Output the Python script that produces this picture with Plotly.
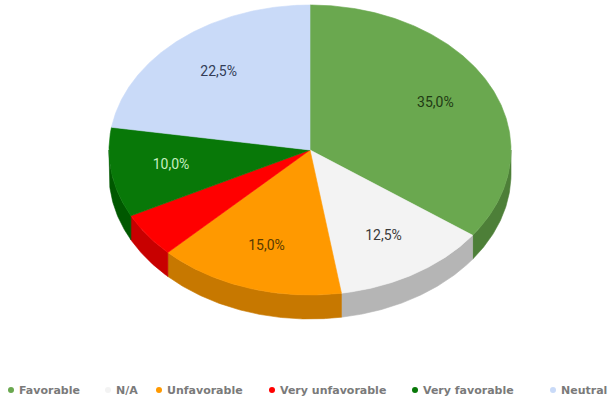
import numpy as np
import plotly.graph_objects as go

# Survey answers and their shares (percent)
categories = ["Favorable", "N/A", "Unfavorable", "Very unfavorable", "Very favorable", "Neutral"]
shares = [35.0, 12.5, 15.0, 5.0, 10.0, 22.5]

# Styling
top_colors = ["#6aa84f", "#f3f3f3", "#ff9900", "#ff0000", "#087808", "#c9daf8"]
side_colors = ["#4d7f38", "#b5b5b5", "#c77800", "#c80000", "#005800", "#9fb5dc"]
label_colors = ["#1f3a14", "#3a3a3a", "#5a3b00", "#ffffff", "#c6efc0", "#333d57"]

W, H = 610, 402
CX, CY = 310.0, 150.0      # centre of the top face
RX, RY = 201.0, 145.0      # ellipse radii of the tilted disc
DEPTH = 24.0               # thickness of the disc
LABEL_R = 0.70             # label distance as fraction of radius
MIN_LABEL_SHARE = 7.0      # slices thinner than this get no label


def ellipse_pts(a0, a1, dy=0.0, n=None):
    """Points on the rim between angles a0..a1 (degrees, clockwise from 12 o'clock)."""
    if n is None:
        n = max(int(abs(a1 - a0) * 2), 2)
    t = np.radians(np.linspace(a0, a1, n))
    return CX + RX * np.sin(t), CY - RY * np.cos(t) + dy


total = float(sum(shares))
bounds = np.concatenate([[0.0], np.cumsum(shares) / total * 360.0])

fig = go.Figure()

# Side walls: only the front half of the rim (90..270 deg) is visible
for i, cat in enumerate(categories):
    a0, a1 = max(bounds[i], 90.0), min(bounds[i + 1], 270.0)
    if a1 <= a0:
        continue
    xt, yt = ellipse_pts(a0, a1)
    xb, yb = ellipse_pts(a1, a0, dy=DEPTH)
    fig.add_trace(go.Scatter(
        x=np.concatenate([xt, xb, xt[:1]]), y=np.concatenate([yt, yb, yt[:1]]),
        fill="toself", fillcolor=side_colors[i], mode="lines",
        line=dict(color=side_colors[i], width=0.6),
        hoverinfo="skip", showlegend=False))

# Top faces
for i, cat in enumerate(categories):
    xa, ya = ellipse_pts(bounds[i], bounds[i + 1])
    fig.add_trace(go.Scatter(
        x=np.concatenate([[CX], xa, [CX]]), y=np.concatenate([[CY], ya, [CY]]),
        fill="toself", fillcolor=top_colors[i], mode="lines",
        line=dict(color=top_colors[i], width=0.6),
        name=cat, hoverinfo="name", showlegend=False))

# Percentage labels at the middle of each slice
mids = np.radians((bounds[:-1] + bounds[1:]) / 2.0)
lx = CX + LABEL_R * RX * np.sin(mids)
ly = CY - LABEL_R * RY * np.cos(mids)
texts = [(f"{v / total * 100:.1f}%".replace(".", ",") if v >= MIN_LABEL_SHARE else "") for v in shares]
fig.add_trace(go.Scatter(
    x=lx, y=ly, mode="text", text=texts,
    textfont=dict(family="Roboto, Arial, sans-serif", size=14, color=label_colors),
    hoverinfo="skip", showlegend=False))

# Legend row along the bottom
legend_marker_x = [11, 108, 159, 272, 415, 553]
LEGEND_Y = 390
fig.add_trace(go.Scatter(
    x=legend_marker_x, y=[LEGEND_Y] * len(categories), mode="markers",
    marker=dict(size=6, color=top_colors, line=dict(width=0)),
    hoverinfo="skip", showlegend=False))
for mx, cat in zip(legend_marker_x, categories):
    fig.add_annotation(x=mx + 6, y=LEGEND_Y, text=f"<b>{cat}</b>", showarrow=False,
                       xanchor="left", yanchor="middle",
                       font=dict(family="DejaVu Sans, sans-serif", size=11, color="#7a7a7a"))

fig.update_layout(
    width=W, height=H, margin=dict(l=0, r=0, t=0, b=0),
    paper_bgcolor="white", plot_bgcolor="white",
    xaxis=dict(range=[0, W], visible=False, fixedrange=True),
    yaxis=dict(range=[H, 0], visible=False, fixedrange=True),
)

fig.write_html("out.html")
